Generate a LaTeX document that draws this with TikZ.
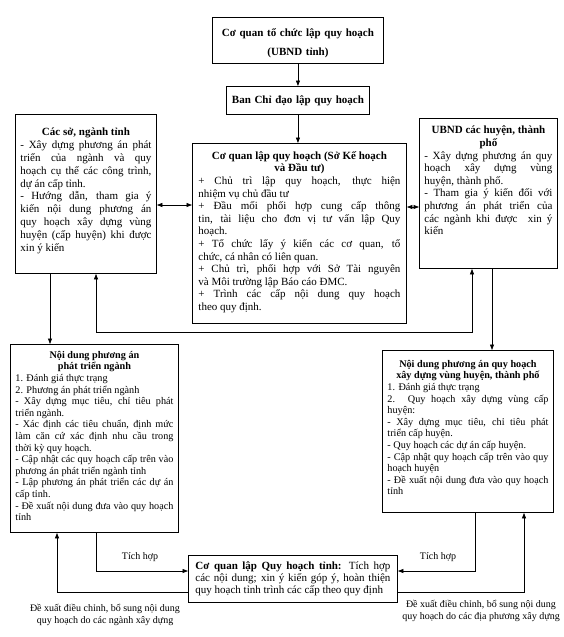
\documentclass[tikz,border=0pt]{standalone}
\usepackage{fontspec}
\setmainfont{Liberation Serif}
\usetikzlibrary{arrows.meta}
\setlength{\parindent}{0pt}
\hyphenpenalty=10000
\exhyphenpenalty=10000
\tolerance=10000
\hbadness=10000
\begin{document}
\begin{tikzpicture}[x=1pt,y=-1pt,
  frame/.style={draw, line width=0.9pt, inner sep=0pt, anchor=north west},
  txt/.style={inner sep=0pt, align=justify, anchor=north},
  big/.style={font=\fontsize{11}{12.6}\selectfont},
  small/.style={font=\fontsize{10.2}{11.6}\selectfont},
  conn/.style={line width=0.7pt},
  arr/.style={conn, -{Triangle[length=5.5pt,width=4pt]}},
  darr/.style={conn, {Triangle[length=5.5pt,width=4pt]}-{Triangle[length=5.5pt,width=4pt]}},
  lbl/.style={font=\fontsize{10}{12}\selectfont, inner sep=0pt, align=center}
]
\useasboundingbox (0,0) rectangle (564,637);

% frames
\node[frame, minimum width=171pt, minimum height=46pt] (T) at (212,17) {};
\node[frame, minimum width=143pt, minimum height=28pt] (B) at (226,86) {};
\node[frame, minimum width=214pt, minimum height=180pt] (C) at (192,143) {};
\node[frame, minimum width=141pt, minimum height=159pt] (L) at (15,114) {};
\node[frame, minimum width=138pt, minimum height=150pt] (R) at (419,118) {};
\node[frame, minimum width=168pt, minimum height=188pt] (LL) at (10,344) {};
\node[frame, minimum width=171pt, minimum height=162pt] (RL) at (382,350) {};
\node[frame, minimum width=209pt, minimum height=47pt] (BB) at (188,555) {};

% texts
\node[txt, anchor=center, align=center, text width=165pt, font=\bfseries\fontsize{11}{19}\selectfont] (Tt) at ([yshift=-3pt]T.center)
  {Cơ quan tổ chức lập quy hoạch\par (UBND tỉnh)};
\node[txt, anchor=center, align=center, text width=140pt, font=\bfseries\fontsize{11}{12}\selectfont] (Bt) at (B.center)
  {Ban Chỉ đạo lập quy hoạch};

\node[txt, big, text width=202pt] (Ct) at ([yshift=-8pt]C.north)
  {{\centering\bfseries Cơ quan lập quy hoạch (Sở Kế hoạch\par và Đầu tư)\par}
  + Chủ trì lập quy hoạch, thực hiện\linebreak nhiệm vụ chủ đầu tư\par
  + Đầu mối phối hợp cung cấp thông\linebreak tin, tài liệu cho đơn vị tư vấn lập Quy\linebreak hoạch.\par
  + Tổ chức lấy ý kiến các cơ quan, tổ\linebreak chức, cá nhân có liên quan.\par
  + Chủ trì, phối hợp với Sở Tài nguyên\linebreak và Môi trường lập Báo cáo ĐMC.\par
  + Trình các cấp nội dung quy hoạch\linebreak theo quy định.};

\node[txt, big, text width=131pt, font=\fontsize{11}{12.8}\selectfont] (Lt) at ([yshift=-14pt]L.north)
  {{\centering\bfseries Các sở, ngành tỉnh\par}
  - Xây dựng phương án phát\linebreak triển của ngành và quy\linebreak hoạch cụ thể các công trình,\linebreak dự án cấp tỉnh.\par
  - Hướng dẫn, tham gia ý\linebreak kiến nội dung phương án\linebreak quy hoạch xây dựng vùng\linebreak huyện (cấp huyện) khi được\linebreak xin ý kiến};

\node[txt, big, text width=128pt] (Rt) at ([yshift=-8pt]R.north)
  {{\centering\bfseries UBND các huyện, thành\par phố\par}
  - Xây dựng phương án quy\linebreak hoạch xây dựng vùng\linebreak huyện, thành phố.\par
  - Tham gia ý kiến đối với\linebreak phương án phát triển của\linebreak các ngành khi được\ \ xin ý\linebreak kiến};

\node[txt, small, text width=158pt] (LLt) at ([yshift=-7pt]LL.north)
  {{\centering\bfseries Nội dung phương án\par phát triển ngành\par}
  1. Đánh giá thực trạng\par
  2. Phương án phát triển ngành\par
  - Xây dựng mục tiêu, chỉ tiêu phát\linebreak triển ngành.\par
  - Xác định các tiêu chuẩn, định mức\linebreak làm căn cứ xác định nhu cầu trong\linebreak thời kỳ quy hoạch.\par
  - Cập nhật các quy hoạch cấp trên vào\linebreak phương án phát triển ngành tỉnh\par
  - Lập phương án phát triển các dự án\linebreak cấp tỉnh.\par
  - Đề xuất nội dung đưa vào quy hoạch\linebreak tỉnh};

\node[txt, small, text width=161pt] (RLt) at ([yshift=-10pt]RL.north)
  {{\centering\bfseries Nội dung phương án quy hoạch\par xây dựng vùng huyện, thành phố\par}
  1. Đánh giá thực trạng\par
  2. Quy hoạch xây dựng vùng cấp\linebreak huyện:\par
  - Xây dựng mục tiêu, chỉ tiêu phát\linebreak triển cấp huyện.\par
  - Quy hoạch các dự án cấp huyện.\par
  - Cập nhật quy hoạch cấp trên vào quy\linebreak hoạch huyện\par
  - Đề xuất nội dung đưa vào quy hoạch\linebreak tỉnh};

\node[txt, anchor=center, text width=195pt, font=\fontsize{11}{12.2}\selectfont] (BBt) at (BB.center)
  {\textbf{Cơ quan lập Quy hoạch tỉnh:} Tích hợp\linebreak các nội dung; xin ý kiến góp ý, hoàn thiện\linebreak quy hoạch tỉnh trình các cấp theo quy định};

% labels
\node[lbl] (tl) at (140,557) {Tích hợp};
\node[lbl] (tr) at (438,557) {Tích hợp};
\node[lbl] (dl) at (105,615) {Đề xuất điều chỉnh, bổ sung nội dung\\quy hoạch do các ngành xây dựng};
\node[lbl] (dr) at (481,611) {Đề xuất điều chỉnh, bổ sung nội dung\\quy hoạch do các địa phương xây dựng};

% helper coordinates
\coordinate (yLC) at (0,205);
\coordinate (yCR) at (0,207);
\coordinate (yH) at (0,332);
\coordinate (y1) at (0,571);
\coordinate (y2) at (0,592);
\coordinate (xa) at (50,0);
\coordinate (xb) at (96,0);
\coordinate (xc) at (472,0);
\coordinate (xd) at (492,0);
\coordinate (xe) at (57,0);
\coordinate (xf) at (475,0);
\coordinate (xg) at (524,0);

% connectors
\draw[arr] (T.south) -- (T.south |- B.north);
\draw[arr] (B.south) -- (B.south |- C.north);
\draw[darr] (yLC -| L.east) -- (yLC -| C.west);
\draw[darr] (yCR -| C.east) -- (yCR -| R.west);
\draw[arr] (xa |- L.south) -- (xa |- LL.north);
\draw[darr] (xb |- L.south) -- (xb |- yH) -- (xc |- yH) -- (xc |- R.south);
\draw[arr] (xd |- R.south) -- (xd |- RL.north);
\draw[arr] (xb |- LL.south) |- (y1 -| BB.west);
\draw[arr] (y2 -| BB.west) -| (xe |- LL.south);
\draw[arr] (xf |- RL.south) |- (y1 -| BB.east);
\draw[arr] (y2 -| BB.east) -| (xg |- RL.south);
\end{tikzpicture}
\end{document}
